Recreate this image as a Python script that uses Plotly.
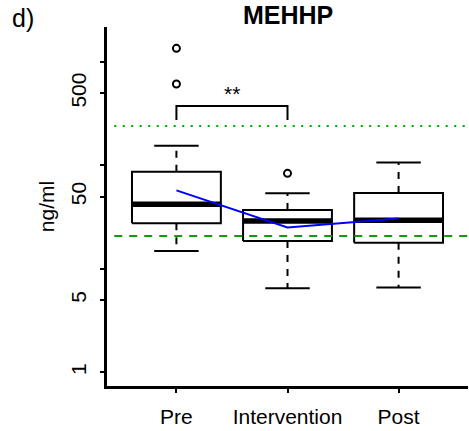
import math
import plotly.graph_objects as go

# ---- data ----
categories = ["Pre", "Intervention", "Post"]
q1 = [27.6, 18.6, 17.9]
medians = [42.1, 29.0, 29.5]
q3 = [87.0, 37.1, 54.2]
lower_whisker = [14.9, 6.5, 6.6]
upper_whisker = [155.0, 53.8, 107.0]
outliers = [[1358.0, 613.0], [84.0], []]
means = [57.5, 25.2, 30.8]
ref_dotted = 241.0
ref_dashed = 20.8
bracket_top = 376.0
bracket_leg = 275.0
star_level = 500.0
ytick_vals = [1, 5, 10, 50, 100, 500, 1000]
ytick_text = ["1", "5", "", "50", "", "500", ""]

FONT = "Liberation Sans, Arial, sans-serif"
xpos = [i + 1 for i in range(len(categories))]
half_box = 0.4
half_cap = 0.2

fig = go.Figure()

for i, c in enumerate(xpos):
    # whiskers (dashed)
    fig.add_trace(go.Scatter(x=[c, c], y=[q3[i], upper_whisker[i]], mode="lines",
                             line=dict(color="black", width=2, dash="7px,7px"),
                             hoverinfo="skip", showlegend=False))
    fig.add_trace(go.Scatter(x=[c, c], y=[q1[i], lower_whisker[i]], mode="lines",
                             line=dict(color="black", width=2, dash="7px,7px"),
                             hoverinfo="skip", showlegend=False))
    # caps
    for w in (upper_whisker[i], lower_whisker[i]):
        fig.add_trace(go.Scatter(x=[c - half_cap, c + half_cap], y=[w, w], mode="lines",
                                 line=dict(color="black", width=2),
                                 hoverinfo="skip", showlegend=False))
    # box
    fig.add_trace(go.Scatter(x=[c - half_box, c + half_box, c + half_box, c - half_box, c - half_box],
                             y=[q1[i], q1[i], q3[i], q3[i], q1[i]], mode="lines",
                             fill="toself", fillcolor="white",
                             line=dict(color="black", width=2),
                             hoverinfo="skip", showlegend=False))
    # median
    fig.add_trace(go.Scatter(x=[c - half_box, c + half_box], y=[medians[i], medians[i]], mode="lines",
                             line=dict(color="black", width=5.5),
                             hoverinfo="skip", showlegend=False))
    # outliers
    if outliers[i]:
        fig.add_trace(go.Scatter(x=[c] * len(outliers[i]), y=outliers[i], mode="markers",
                                 marker=dict(symbol="circle-open", size=7, color="black",
                                             line=dict(width=2, color="black")),
                                 hoverinfo="skip", showlegend=False))

# reference lines
fig.add_trace(go.Scatter(x=[0.44, 3.65], y=[ref_dotted, ref_dotted], mode="lines",
                         line=dict(color="#00a800", width=2, dash="2px,6.5px"),
                         hoverinfo="skip", showlegend=False))
fig.add_trace(go.Scatter(x=[0.44, 3.65], y=[ref_dashed, ref_dashed], mode="lines",
                         line=dict(color="#139a13", width=2, dash="8px,7px"),
                         hoverinfo="skip", showlegend=False))

# mean line
fig.add_trace(go.Scatter(x=xpos, y=means, mode="lines",
                         line=dict(color="#0000ff", width=2),
                         hoverinfo="skip", showlegend=False))

# significance bracket
fig.add_trace(go.Scatter(x=[xpos[0], xpos[0], xpos[1], xpos[1]],
                         y=[bracket_leg, bracket_top, bracket_top, bracket_leg], mode="lines",
                         line=dict(color="black", width=2),
                         hoverinfo="skip", showlegend=False))

fig.add_annotation(x=(xpos[0] + xpos[1]) / 2, y=math.log10(star_level), xref="x", yref="y",
                   text="**", showarrow=False, font=dict(family=FONT, size=21, color="black"),
                   yanchor="middle")

# title and panel label
fig.add_annotation(x=0.5, y=1.033, xref="paper", yref="paper", text="<b>MEHHP</b>",
                   showarrow=False, font=dict(family=FONT, size=25, color="black"),
                   xanchor="center", yanchor="middle")
fig.add_annotation(x=-0.27, y=1.025, xref="paper", yref="paper", text="d)",
                   showarrow=False, font=dict(family=FONT, size=25, color="black"),
                   xanchor="left", yanchor="middle")
fig.add_annotation(x=-0.167, y=0.5, xref="paper", yref="paper", text="ng/ml",
                   showarrow=False, textangle=-90, font=dict(family=FONT, size=21, color="black"),
                   xanchor="center", yanchor="middle")

fig.update_layout(
    width=469, height=431,
    margin=dict(l=107, r=1, t=27, b=45, autoexpand=False),
    paper_bgcolor="white", plot_bgcolor="white",
    font=dict(family=FONT, size=21, color="black"),
    xaxis=dict(range=[0.375, 3.625], tickvals=xpos, ticktext=categories,
               showline=True, linecolor="black", linewidth=2.5,
               ticks="outside", ticklen=4, tickwidth=2, tickcolor="black",
               showgrid=False, zeroline=False, ticklabelstandoff=6, automargin=False,
               tickfont=dict(family=FONT, size=21, color="black")),
    yaxis=dict(type="log", range=[-0.132, 3.339], tickvals=ytick_vals, ticktext=ytick_text,
               showline=True, linecolor="black", linewidth=2.5,
               ticks="outside", ticklen=4, tickwidth=2, tickcolor="black",
               showgrid=False, zeroline=False, tickangle=-90, ticklabelstandoff=6,
               automargin=False,
               tickfont=dict(family=FONT, size=21, color="black")),
)

# remove the browser's default 8px body margin so the figure fills the window exactly
fig.write_html("out.html", config={"displayModeBar": False},
               post_script="document.body.style.margin='0';")
